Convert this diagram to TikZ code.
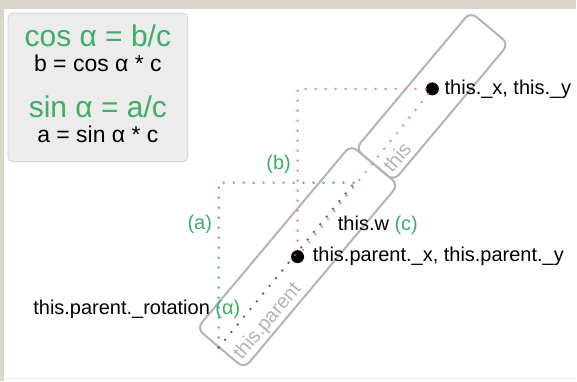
\documentclass[tikz,border=0pt]{standalone}
\usepackage{fontspec}
\setmainfont{Liberation Sans}
\usepackage{xcolor}
\usepackage{tikz}
\usetikzlibrary{positioning,calc}
\definecolor{frame}{HTML}{DAD6CC}
\definecolor{grn}{HTML}{3EAE66}
\definecolor{tealdot}{HTML}{5DB393}
\definecolor{pinkdot}{HTML}{E88A9A}
\definecolor{darkdot}{HTML}{4F6B68}
\definecolor{boxgray}{HTML}{B4B4B4}
\definecolor{panel}{HTML}{ECECEC}

\begin{document}
\begin{tikzpicture}[x=0.5pt,y=-0.5pt,
    rbox/.style={draw=boxgray,line width=1pt,rounded corners=4pt,rotate=50,inner sep=0pt},
    boxtxt/.style={rotate=50,text=boxgray,font=\fontsize{10}{12}\selectfont},
    spot/.style={circle,fill=black,inner sep=0pt,minimum size=6.5pt},
    lbl/.style={font=\fontsize{10}{12}\selectfont,inner sep=0pt},
    glbl/.style={lbl,text=grn},
    dotline/.style={line width=1.35pt,line cap=round,dash pattern=on 0pt off 5pt}]
  % page
  \fill[white] (0,0) rectangle (577,382);
  \fill[frame] (0,0) rectangle (577,9);
  \fill[frame] (0,0) rectangle (4.5,382);
  \draw[black!9,line width=0.8pt] (4.5,379) -- (577,379);
  \useasboundingbox (0,0) rectangle (577,382);

  % formula panel
  \draw[fill=panel,draw=black!18,rounded corners=2.5pt] (8,13) rectangle (188,162);
  \foreach \i/\yy/\sz/\cl/\eq in {1/47/15/grn/{cos α = b/c},2/72/11.5/black/{b = cos α * c},
                                 3/118/15/grn/{sin α = a/c},4/143/11.5/black/{a = sin α * c}}{
    \node[anchor=base,inner sep=0pt,text=\cl,font=\fontsize{\sz}{\sz}\selectfont] (eq\i) at (98,\yy) {\eq};
  }

  % boxes
  \coordinate (P) at (298,257);
  \node[rbox,minimum width=120pt,minimum height=31pt] (parentbox) at (P) {};
  \node[rbox,minimum width=89.5pt,minimum height=25pt] (thisbox) at ($(P)+(50:104.75pt)$) {};
  \node[boxtxt] (parenttxt) at ($(P)+(230:34.5pt)+(320:9.5pt)$) {this.parent};
  \node[boxtxt] (thistxt) at ($(thisbox.center)+(230:34.5pt)+(320:6pt)$) {this};

  % triangles
  \node[spot] (pardot) at (P) {};
  \node[spot] (thisdot) at (433,89) {};
  \coordinate (O) at (219,348);
  \coordinate (C) at (355,183);
  \draw[dotline,pinkdot] (thisdot) -- (pardot |- thisdot) -- (pardot);
  \draw[dotline,pinkdot] (thisdot) -- (pardot);
  \draw[dotline,tealdot] (O) -- (O |- C) -- (C);
  \draw[dotline,darkdot] (O) -- (C);

  % labels
  \node[lbl,right=2.5pt of thisdot] (thislbl) {this.\_x, this.\_y};
  \node[lbl,right=4pt of pardot] (parlbl) {this.parent.\_x, this.parent.\_y};
  \node[lbl,anchor=west] (wlbl) at (338,226) {this.w \textcolor{grn}{(c)}};
  \node[glbl] (blbl) at (279,165) {(b)};
  \node[glbl] (albl) at (200,225) {(a)};
  \node[lbl,anchor=west] (rotlbl) at (33,310) {this.parent.\_rotation \textcolor{grn}{(α)}};
\end{tikzpicture}
\end{document}
